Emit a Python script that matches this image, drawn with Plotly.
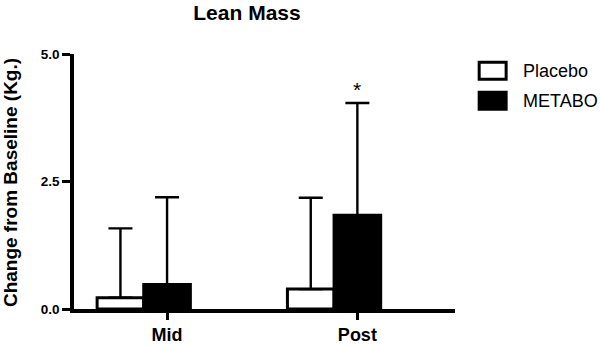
import plotly.graph_objects as go

categories = ["Mid", "Post"]
placebo_mean = [0.22, 0.39]
placebo_err = [1.36, 1.79]
metabo_mean = [0.48, 1.84]
metabo_err = [1.71, 2.20]
y_ticks = [0.0, 2.5, 5.0]
y_ticklabels = ["0.0", "2.5", "5.0"]
sig_labels = ["", "*"]

W, H = 600, 347
L, R, T, B = 73.5, 145, 54, 38
pw, ph = W - L - R, H - T - B

def px_x(p):
    return (p - L) / pw

def px_y(p):
    return (H - B - p) / ph

FONT = "Liberation Sans, Arial, Helvetica, sans-serif"
bw = 0.245

fig = go.Figure()
fig.add_trace(go.Bar(
    x=categories, y=placebo_mean, name="Placebo", width=bw, offset=-1.5 * bw,
    marker=dict(color="white", line=dict(color="black", width=3)),
    error_y=dict(type="data", array=placebo_err, arrayminus=[0] * len(categories),
                 symmetric=False, color="black", thickness=2.4, width=12),
    showlegend=False, hoverinfo="skip",
))
fig.add_trace(go.Bar(
    x=categories, y=metabo_mean, name="METABO", width=bw, offset=-0.5 * bw,
    marker=dict(color="black", line=dict(color="black", width=3)),
    error_y=dict(type="data", array=metabo_err, arrayminus=[0] * len(categories),
                 symmetric=False, color="black", thickness=2.4, width=12),
    showlegend=False, hoverinfo="skip",
))

for c, m, e, s in zip(categories, metabo_mean, metabo_err, sig_labels):
    if s:
        fig.add_annotation(x=c, y=m + e, text=s, showarrow=False, yanchor="bottom",
                           yshift=0, font=dict(family=FONT, size=21, color="black"))

# y-axis title
fig.add_annotation(xref="paper", yref="paper", x=px_x(9.5), y=px_y(183),
                   text="Change from Baseline (Kg.)", textangle=-90, showarrow=False,
                   xanchor="center", yanchor="middle",
                   font=dict(family=FONT, size=19, color="black", weight="bold"))

# legend (manual)
legend_items = [("Placebo", "white"), ("METABO", "black")]
for i, (name, fill) in enumerate(legend_items):
    yc = 70.7 + i * 30
    fig.add_shape(type="rect", xref="paper", yref="paper",
                  x0=px_x(479.2), x1=px_x(506.2), y0=px_y(yc - 8.5), y1=px_y(yc + 8.5),
                  line=dict(color="black", width=3), fillcolor=fill)
    fig.add_annotation(xref="paper", yref="paper", x=px_x(521), y=px_y(yc),
                       text=name, showarrow=False, xanchor="left", yanchor="middle",
                       font=dict(family=FONT, size=18, color="black"))

fig.update_layout(
    width=W, height=H,
    margin=dict(l=L, r=R, t=T, b=B, autoexpand=False),
    paper_bgcolor="white", plot_bgcolor="white",
    barmode="overlay",
    title=dict(text="<b>Lean Mass</b>", x=247 / W, xanchor="center", xref="container",
               y=1 - 13 / H, yanchor="middle", yref="container",
               font=dict(family=FONT, size=21, color="black")),
    xaxis=dict(type="category", range=[-0.489, 1.513], showline=True, linecolor="black",
               linewidth=3.5, ticks="outside", ticklen=7, tickwidth=3, tickcolor="black",
               tickfont=dict(family=FONT, size=18, color="black", weight="bold"),
               showgrid=False, zeroline=False, automargin=False),
    yaxis=dict(range=[0, 5], showline=True, linecolor="black", linewidth=3.5,
               tickvals=y_ticks, ticktext=y_ticklabels, ticks="outside", ticklen=8,
               tickwidth=3, tickcolor="black",
               tickfont=dict(family=FONT, size=13.5, color="black", weight="bold"),
               showgrid=False, zeroline=False, automargin=False),
    font=dict(family=FONT),
)

fig.write_html("out.html", config={"displayModeBar": False},
               post_script="document.body.style.margin='0';document.body.style.overflow='hidden';")
